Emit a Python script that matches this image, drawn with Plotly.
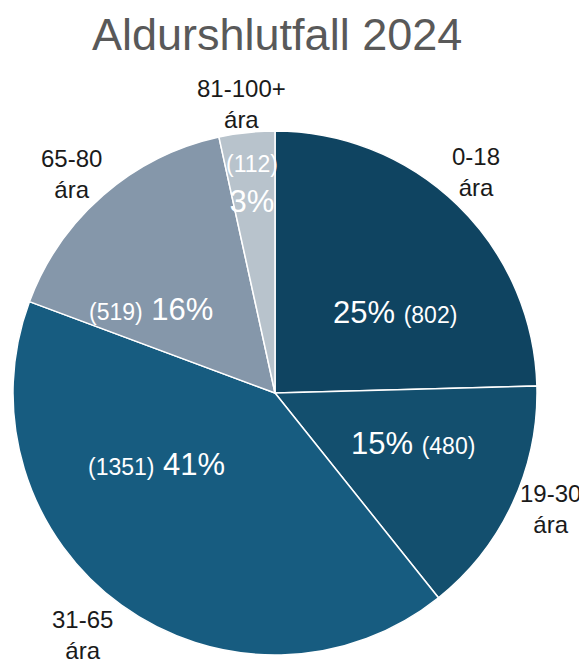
import math
import plotly.graph_objects as go

# ---- data ----
categories = ["0-18", "19-30", "31-65", "65-80", "81-100+"]
counts = [802, 480, 1351, 519, 112]
pct_labels = ["25%", "15%", "41%", "16%", "3%"]
title_text = "Aldurshlutfall 2024"

# ---- styles ----
colors = ["#0f4461", "#134f6e", "#175c80", "#8597aa", "#b8c3cc"]
OFF = 8  # page body margin
W, H = 587 - OFF, 664 - OFF
dom_x = [(13 - OFF) / W, (537 - OFF) / W]
dom_y = [(664 - 655) / H, (664 - 131) / H]
font_family = "Liberation Sans, Arial, sans-serif"
# label placement tweaks (angle offset in degrees, radius as fraction of R)
in_angle_off = [12, -5, 23, -15, 0]
in_radius = [0.55, 0.56, 0.53, 0.57, 0.80]
in_count_first = [False, False, True, True, True]
out_angle_off = [-2, -2, 2.5, -2, -0.5]
out_radius = [1.14, 1.14, 1.18, 1.14, 1.11]

fig = go.Figure()
fig.add_trace(go.Pie(
    labels=categories, values=counts, sort=False, direction="clockwise",
    rotation=0, textinfo="none", hoverinfo="label+value+percent",
    marker=dict(colors=colors, line=dict(color="white", width=1.5)),
    domain=dict(x=dom_x, y=dom_y), showlegend=False,
))

# geometry derived from domain
cx = (dom_x[0] + dom_x[1]) / 2 * W
cy = (1 - (dom_y[0] + dom_y[1]) / 2) * H
R = min((dom_x[1] - dom_x[0]) * W, (dom_y[1] - dom_y[0]) * H) / 2
total = sum(counts)

annotations = []
cum = 0
for i, (cat, v) in enumerate(zip(categories, counts)):
    mid = (cum + v / 2) / total * 360
    cum += v
    # outside label
    a = math.radians(mid + out_angle_off[i])
    ox = cx + out_radius[i] * R * math.sin(a)
    oy = cy - out_radius[i] * R * math.cos(a)
    annotations.append(dict(
        x=ox / W, y=1 - oy / H, xref="paper", yref="paper",
        text=f"{cat}<br>ára", showarrow=False, xanchor="center", yanchor="middle",
        font=dict(family=font_family, size=24, color="#1a1a1a"),
    ))
    # inside label
    a2 = math.radians(mid + in_angle_off[i])
    ix = cx + in_radius[i] * R * math.sin(a2)
    iy = cy - in_radius[i] * R * math.cos(a2)
    cnt = f"<span style='font-size:23px'>({v})</span>"
    if i == 4:
        txt = f"{cnt}<br>{pct_labels[i]}"
    elif in_count_first[i]:
        txt = f"{cnt} {pct_labels[i]}"
    else:
        txt = f"{pct_labels[i]} {cnt}"
    annotations.append(dict(
        x=ix / W, y=1 - iy / H, xref="paper", yref="paper",
        text=txt, showarrow=False, xanchor="center", yanchor="middle",
        font=dict(family=font_family, size=31, color="white"),
    ))

annotations.append(dict(
    x=(277 - OFF) / W, y=1 - (35 - OFF) / H, xref="paper", yref="paper", text=title_text,
    showarrow=False, xanchor="center", yanchor="middle",
    font=dict(family=font_family, size=45, color="#595959"),
))

fig.update_layout(
    width=W, height=H, margin=dict(l=0, r=0, t=0, b=0),
    paper_bgcolor="white", plot_bgcolor="white",
    annotations=annotations,
)
fig.write_html("out.html")
